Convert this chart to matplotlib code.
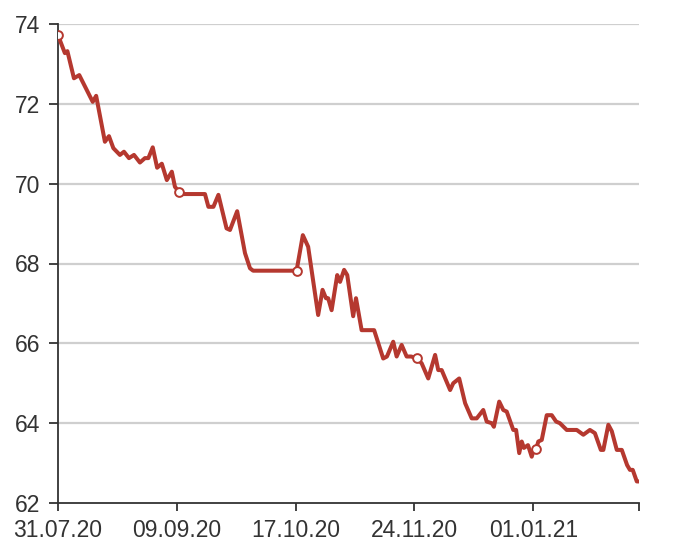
import matplotlib
matplotlib.use("Agg")
import matplotlib.pyplot as plt

# x: position in days from 31.07.20, y: value
xs = [0, 2.2, 3.0, 5.1, 6.8, 11.1, 12.2, 15.0, 16.3, 17.7, 19.8, 21.1, 22.7, 24.3,
      26.2, 27.8, 28.9, 30.3, 31.7, 33.2, 34.8, 36.4, 37.4, 38.7, 40.1, 47.0,
      48.1, 49.7, 51.3, 53.9, 55.0, 57.3, 59.8, 61.4, 62.4, 76.3,
      78.3, 80.0, 83.2, 84.6, 85.7, 86.4, 87.5, 89.3, 90.2, 91.5, 92.5, 94.4,
      95.3, 97.1, 101.1, 104.0, 105.2, 107.2, 108.3, 109.9, 111.5, 112.9, 114.7,
      116.3, 118.4, 120.6, 121.6, 122.7, 125.4, 126.4, 128.3, 130.2, 132.3,
      133.9, 136.0, 137.1, 138.7, 139.4, 141.1, 142.4, 143.5, 145.6, 146.5,
      147.5, 148.3, 149.0, 150.3, 151.5, 152.2, 152.9, 153.6, 154.7, 156.3,
      157.9, 159.3, 160.5, 162.7, 165.9, 168.0, 170.1, 171.7, 173.6, 174.4,
      176.0, 177.1, 178.7, 180.3, 182.0, 182.9, 183.8, 185.1, 185.9]
values = [73.72, 73.27, 73.32, 72.64, 72.72, 72.05, 72.2, 71.05, 71.19, 70.89,
          70.72, 70.8, 70.64, 70.72, 70.53, 70.64, 70.64, 70.91, 70.4, 70.5,
          70.09, 70.3, 69.92, 69.8, 69.74, 69.74, 69.42, 69.42, 69.72, 68.88,
          68.84, 69.31, 68.26, 67.88, 67.82, 67.82,
          68.71, 68.42, 66.71, 67.34, 67.13, 67.13, 66.83, 67.71, 67.54, 67.84,
          67.71, 66.68, 67.13, 66.33, 66.33, 65.62, 65.67, 66.04, 65.67, 65.96,
          65.67, 65.67, 65.63, 65.5, 65.12, 65.71, 65.33, 65.33, 64.83, 65.0,
          65.12, 64.5, 64.12, 64.12, 64.33, 64.04, 64.0, 63.91, 64.54, 64.33,
          64.29, 63.83, 63.83, 63.25, 63.54, 63.38, 63.45, 63.16, 63.35, 63.35,
          63.54, 63.58, 64.2, 64.2, 64.04, 64.0, 63.83, 63.83, 63.71, 63.83,
          63.75, 63.33, 63.33, 63.96, 63.8, 63.33, 63.33, 62.95, 62.83, 62.83,
          62.54, 62.54]

marker_x = [0, 38.7, 76.3, 114.7, 152.9]
marker_y = [73.72, 69.8, 67.82, 65.63, 63.35]

tick_pos = [0, 38, 76, 114, 152, 185.9]
tick_labels = ["31.07.20", "09.09.20", "17.10.20", "24.11.20", "01.01.21", ""]
y_ticks = [62, 64, 66, 68, 70, 72, 74]

color = "#b5382f"
dark = "#333333"

plt.rcParams['font.family'] = ['Liberation Sans', 'DejaVu Sans']

fig = plt.figure(figsize=(6.8, 5.44), dpi=100)
ax = fig.add_axes([58 / 680, 1 - 503 / 544, (639.3 - 58) / 680, (503 - 24) / 544])

for yv in y_ticks[1:]:
    ax.axhline(yv, color="#cfcfcf", lw=1.6, zorder=1)

ax.plot(xs, values, color=color, lw=2.9, solid_joinstyle="round",
        solid_capstyle="round", zorder=3)
ax.plot(marker_x, marker_y, linestyle="none", marker="o", markersize=6.3,
        markerfacecolor="white", markeredgecolor=color, markeredgewidth=1.4, zorder=4)

ax.set_xlim(0, 185.9)
ax.set_ylim(62, 74)
ax.set_xticks(tick_pos)
ax.set_xticklabels(tick_labels)
ax.set_yticks(y_ticks)
ax.set_yticklabels([str(v) for v in y_ticks])

for s in ["top", "right"]:
    ax.spines[s].set_visible(False)
for s in ["left", "bottom"]:
    ax.spines[s].set_color(dark)
    ax.spines[s].set_linewidth(1.3)

ax.tick_params(axis="x", length=5.5, width=1.3, color=dark, labelsize=16.5,
               labelcolor=dark, pad=6)
ax.tick_params(axis="y", length=6.5, width=1.3, color=dark, labelsize=16.5,
               labelcolor=dark, pad=6.5)

fig.savefig("out.png", dpi=100)
